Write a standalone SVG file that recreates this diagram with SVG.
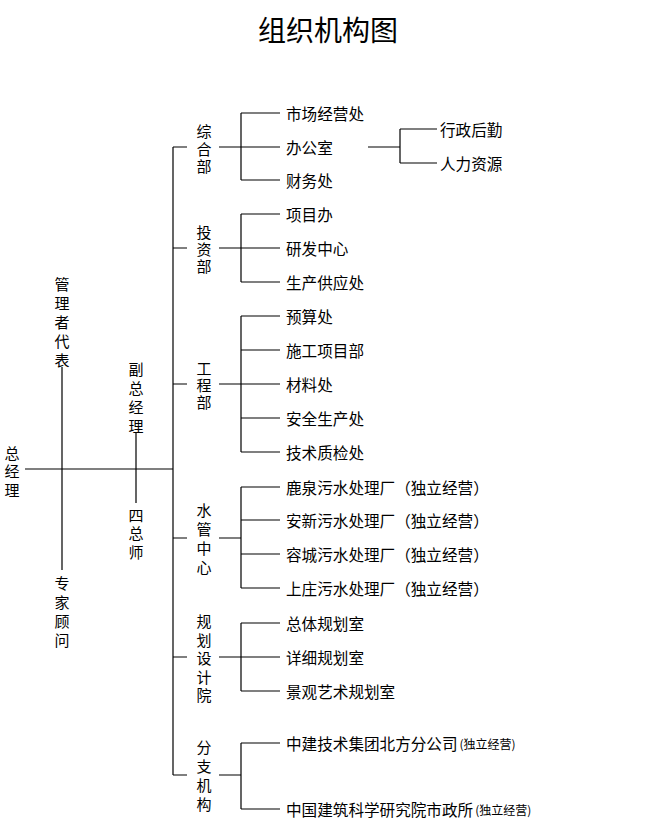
<svg xmlns="http://www.w3.org/2000/svg" width="658" height="837" viewBox="0 0 658 837">
<style>
text{font-family:"Noto Sans CJK SC","Noto Sans",sans-serif;fill:#000;dominant-baseline:central}
.v{font-size:15px;text-anchor:middle}
.h{font-size:15.6px}
.s{font-size:12px}
.ttl{font-size:28px;text-anchor:middle}
#connectors path{fill:none;stroke:#000;stroke-width:1.2}
</style>
<rect width="658" height="837" fill="#fff"/>
<text class="ttl" x="328" y="29">组织机构图</text>
<g id="connectors">
<path d="M25 469H173M62 367V570M136 433V503M173 147V775"/>
<path d="M173 147H187M219 147H241M173 248H187M219 248H241M173 384H187M219 384H241M173 538H187M219 538H241M173 657H187M219 657H241M173 775H187M219 775H241"/>
<path d="M241 113V180M241 214V282M241 316V452M241 487V588M241 623V691M241 743V809"/>
<path d="M241 113H280M241 147H280M241 180H280M241 214H280M241 248H280M241 282H280M241 316H280M241 350H280M241 384H280M241 418H280M241 452H280M241 487H280M241 520H280M241 554H280M241 588H280M241 623H280M241 657H280M241 691H280M241 743H280M241 809H280"/>
<path d="M368 147H400M400 129V163M400 129H437M400 163H437"/>
</g>
<g id="n-zongjingli"><text class="v"><tspan x="12" y="452">总</tspan><tspan x="12" y="470">经</tspan><tspan x="12" y="489">理</tspan></text></g>
<g id="n-guanlizhe"><text class="v"><tspan x="62" y="283">管</tspan><tspan x="62" y="302">理</tspan><tspan x="62" y="321">者</tspan><tspan x="62" y="340">代</tspan><tspan x="62" y="359">表</tspan></text></g>
<g id="n-zhuanjia"><text class="v"><tspan x="62" y="582">专</tspan><tspan x="62" y="601">家</tspan><tspan x="62" y="620">顾</tspan><tspan x="62" y="639">问</tspan></text></g>
<g id="n-fuzong"><text class="v"><tspan x="136" y="368">副</tspan><tspan x="136" y="387">总</tspan><tspan x="136" y="406">经</tspan><tspan x="136" y="425">理</tspan></text></g>
<g id="n-sizongshi"><text class="v"><tspan x="136" y="514">四</tspan><tspan x="136" y="532">总</tspan><tspan x="136" y="551">师</tspan></text></g>
<g id="n-zonghebu"><text class="v"><tspan x="204" y="130">综</tspan><tspan x="204" y="148">合</tspan><tspan x="204" y="165">部</tspan></text></g>
<g id="n-touzibu"><text class="v"><tspan x="204" y="231">投</tspan><tspan x="204" y="248">资</tspan><tspan x="204" y="265">部</tspan></text></g>
<g id="n-gongchengbu"><text class="v"><tspan x="204" y="367">工</tspan><tspan x="204" y="384">程</tspan><tspan x="204" y="401">部</tspan></text></g>
<g id="n-shuiguan"><text class="v"><tspan x="204" y="509">水</tspan><tspan x="204" y="528">管</tspan><tspan x="204" y="547">中</tspan><tspan x="204" y="566">心</tspan></text></g>
<g id="n-guihua"><text class="v"><tspan x="204" y="620">规</tspan><tspan x="204" y="639">划</tspan><tspan x="204" y="657">设</tspan><tspan x="204" y="676">计</tspan><tspan x="204" y="694">院</tspan></text></g>
<g id="n-fenzhi"><text class="v"><tspan x="204" y="746">分</tspan><tspan x="204" y="765">支</tspan><tspan x="204" y="784">机</tspan><tspan x="204" y="803">构</tspan></text></g>
<g id="n-i1"><text class="h" x="286" y="113">市场经营处</text></g>
<g id="n-i2"><text class="h" x="286" y="147">办公室</text></g>
<g id="n-i3"><text class="h" x="286" y="180">财务处</text></g>
<g id="n-i4"><text class="h" x="440" y="129">行政后勤</text></g>
<g id="n-i5"><text class="h" x="440" y="163">人力资源</text></g>
<g id="n-i6"><text class="h" x="286" y="214">项目办</text></g>
<g id="n-i7"><text class="h" x="286" y="248">研发中心</text></g>
<g id="n-i8"><text class="h" x="286" y="282">生产供应处</text></g>
<g id="n-i9"><text class="h" x="286" y="316">预算处</text></g>
<g id="n-i10"><text class="h" x="286" y="350">施工项目部</text></g>
<g id="n-i11"><text class="h" x="286" y="384">材料处</text></g>
<g id="n-i12"><text class="h" x="286" y="418">安全生产处</text></g>
<g id="n-i13"><text class="h" x="286" y="452">技术质检处</text></g>
<g id="n-i14"><text class="h" x="286" y="487">鹿泉污水处理厂（独立经营）</text></g>
<g id="n-i15"><text class="h" x="286" y="520">安新污水处理厂（独立经营）</text></g>
<g id="n-i16"><text class="h" x="286" y="554">容城污水处理厂（独立经营）</text></g>
<g id="n-i17"><text class="h" x="286" y="588">上庄污水处理厂（独立经营）</text></g>
<g id="n-i18"><text class="h" x="286" y="623">总体规划室</text></g>
<g id="n-i19"><text class="h" x="286" y="657">详细规划室</text></g>
<g id="n-i20"><text class="h" x="286" y="691">景观艺术规划室</text></g>
<g id="n-i21"><text class="h" x="286" y="743">中建技术集团北方分公司<tspan class="s" dx="2">(独立经营)</tspan></text></g>
<g id="n-i22"><text class="h" x="286" y="809">中国建筑科学研究院市政所<tspan class="s" dx="2">(独立经营)</tspan></text></g>
</svg>
